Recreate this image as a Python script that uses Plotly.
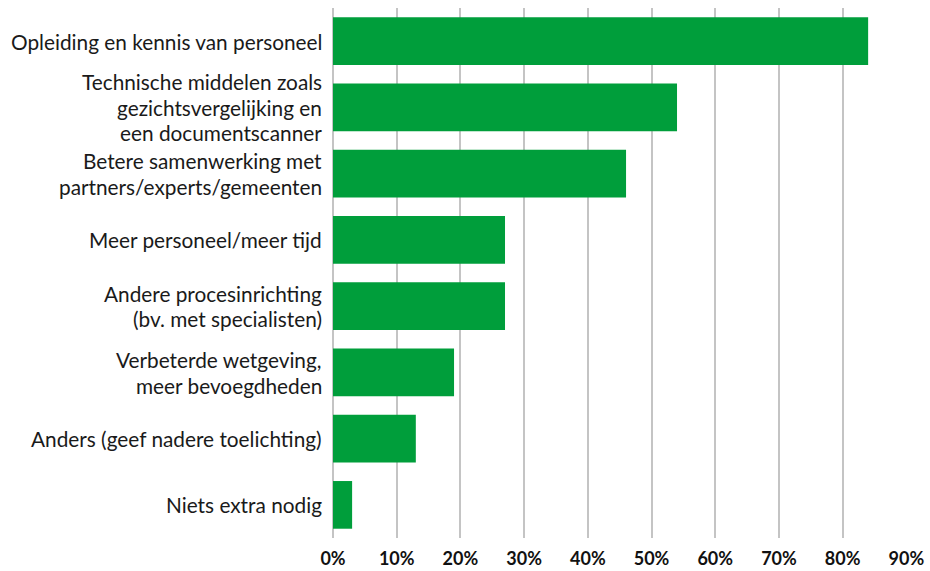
import plotly.graph_objects as go

categories = [
    "Opleiding en kennis van personeel",
    "Technische middelen zoals\ngezichtsvergelijking en\neen documentscanner",
    "Betere samenwerking met\npartners/experts/gemeenten",
    "Meer personeel/meer tijd",
    "Andere procesinrichting\n(bv. met specialisten)",
    "Verbeterde wetgeving,\nmeer bevoegdheden",
    "Anders (geef nadere toelichting)",
    "Niets extra nodig",
]
values = [84, 54, 46, 27, 27, 19, 13, 3]
tick_vals = [0, 10, 20, 30, 40, 50, 60, 70, 80, 90]
tick_text = [f"{v}%" for v in tick_vals]

GREEN = "#009E3B"
GRID = "#c4c4c4"
FONT = "Lato"
LABEL_SIZE = 20.8

fig = go.Figure(go.Bar(
    x=values, y=categories, orientation="h",
    marker=dict(color=GREEN, line=dict(width=0)),
    hoverinfo="skip",
))

line_gap = LABEL_SIZE * 1.2 + 0.6
annotations = []
for cat in categories:
    lines = cat.split("\n")
    n = len(lines)
    for i, ln in enumerate(lines):
        annotations.append(dict(
            x=0, y=cat, xref="x", yref="y", text=ln, showarrow=False,
            xanchor="right", yanchor="middle", xshift=-9,
            yshift=((n - 1) / 2 - i) * line_gap,
            font=dict(family=FONT, size=LABEL_SIZE, color="#1a1a1a"),
        ))

fig.update_layout(
    width=930, height=571,
    margin=dict(l=333, r=23, t=8, b=33, autoexpand=False),
    paper_bgcolor="white", plot_bgcolor="white",
    bargap=0.28,
    showlegend=False,
    annotations=annotations,
    xaxis=dict(
        range=[0, 90.1], tickvals=tick_vals, ticktext=tick_text,
        showgrid=True, gridcolor=GRID, gridwidth=1.5,
        zeroline=True, zerolinecolor=GRID, zerolinewidth=1.5,
        showline=False, ticks="", automargin=False,
        tickfont=dict(family=FONT, size=18, color="#111111", weight="bold"),
        ticklabelstandoff=8,
        fixedrange=True,
    ),
    yaxis=dict(
        autorange="reversed", showticklabels=False, showgrid=False,
        zeroline=False, ticks="", fixedrange=True, automargin=False,
    ),
)

fig.write_html("out.html")
